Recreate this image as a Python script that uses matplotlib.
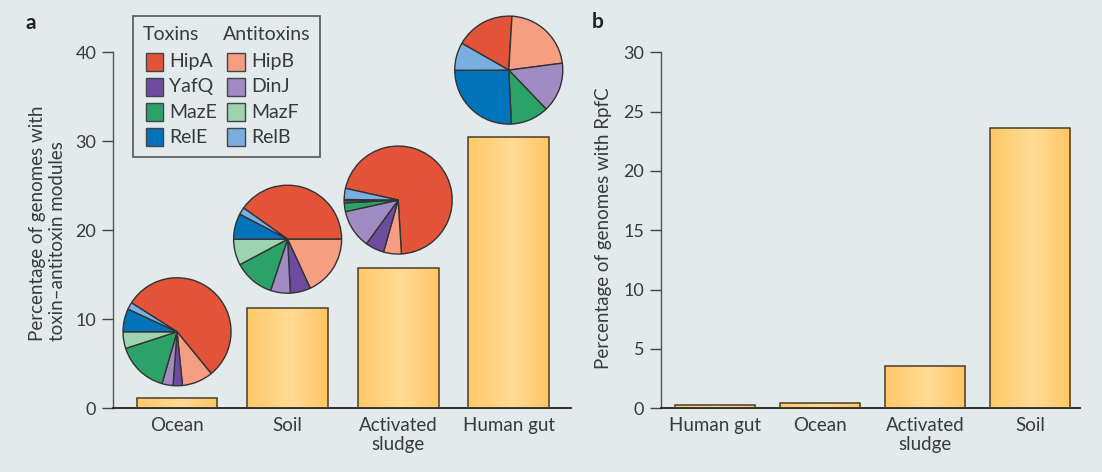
import numpy as np
import matplotlib
matplotlib.use('Agg')
import matplotlib.pyplot as plt
from matplotlib.patches import Rectangle
from matplotlib.transforms import Affine2D

plt.rcParams['font.family'] = ['Lato', 'DejaVu Sans']

# --- dati ---------------------------------------------------------------
env_a = ['Ocean', 'Soil', 'Activated\nsludge', 'Human gut']
ta_pct = [1.2, 11.3, 15.8, 30.45]

# ordine degli spicchi (in senso orario)
modules = ['HipA', 'HipB', 'YafQ', 'DinJ', 'MazE', 'MazF', 'RelE', 'RelB']
ocean_mix = [55.1, 9.3, 2.8, 3.3, 15.5, 5.0, 6.9, 2.1]
soil_mix = [40.2, 18.1, 6.1, 5.9, 12.1, 7.8, 7.7, 2.1]
sludge_mix = [70.3, 5.3, 5.6, 11.5, 2.6, 0.6, 0.4, 3.3]
gut_mix = [17.7, 22.0, 0.0, 14.9, 11.4, 0.0, 25.7, 8.3]

toxins = ['HipA', 'YafQ', 'MazE', 'RelE']
antitoxins = ['HipB', 'DinJ', 'MazF', 'RelB']

env_b = ['Human gut', 'Ocean', 'Activated\nsludge', 'Soil']
rpfc_pct = [0.25, 0.42, 3.6, 23.6]

# --- stile ----------------------------------------------------------------
BG = '#E2EAEC'
TXT = '#3a3a3a'
EDGE = '#4a3d28'
COLS = {'HipA': '#E2533A', 'HipB': '#F59E82', 'YafQ': '#6D4C9F',
        'DinJ': '#A08BC3', 'MazE': '#2BA268', 'MazF': '#9DD3AF',
        'RelE': '#0073BA', 'RelB': '#79AFE0'}

W, H = 1102, 472
fig = plt.figure(figsize=(W / 100, H / 100), dpi=100, facecolor=BG)
pxT = Affine2D().scale(1 / W, -1 / H).translate(0, 1) + fig.transFigure


def box(x0, x1, y_top, y_bot):
    return [x0 / W, 1 - y_bot / H, (x1 - x0) / W, (y_bot - y_top) / H]


axa = fig.add_axes(box(112.9, 570.7, 52.3, 408.3))
axb = fig.add_axes(box(661, 1080, 52.3, 408.3))

c0 = np.array([255, 201, 104]) / 255
c1 = np.array([255, 219, 150]) / 255
c2 = np.array([255, 198, 98]) / 255
t = np.linspace(0, 1, 256)[:, None]
grad = np.where(t < 0.55, c0 + (c1 - c0) * (t / 0.55),
                c1 + (c2 - c1) * ((t - 0.55) / 0.45))[None, :, :]


def gradient_bars(ax, vals, width):
    bars = ax.bar(range(len(vals)), vals, width, facecolor='none',
                  edgecolor=EDGE, lw=1.1, zorder=3)
    for b in bars:
        im = ax.imshow(grad, extent=[b.get_x(), b.get_x() + b.get_width(),
                                     0, b.get_height()],
                       aspect='auto', zorder=2, interpolation='bilinear')
        im.set_clip_path(b)
    return bars


def style(ax, labels, yticks, xlim):
    ax.set_facecolor(BG)
    for s in ('top', 'right'):
        ax.spines[s].set_visible(False)
    ax.spines['left'].set_color('#555555')
    ax.spines['left'].set_linewidth(1.0)
    ax.spines['bottom'].set_color('#222222')
    ax.spines['bottom'].set_linewidth(1.3)
    ax.set_xlim(*xlim)
    ax.set_ylim(yticks[0], yticks[-1])
    ax.set_yticks(yticks)
    ax.set_xticks(range(len(labels)))
    ax.set_xticklabels(labels, linespacing=1.15)
    ax.tick_params(axis='y', direction='out', length=8, width=1,
                   color='#444444', labelsize=13, labelcolor=TXT, pad=4)
    ax.tick_params(axis='x', length=0, labelsize=13.5, labelcolor=TXT,
                   pad=6)


gradient_bars(axa, ta_pct, 0.73)
style(axa, env_a, [0, 10, 20, 30, 40], (-0.58, 3.56))
gradient_bars(axb, rpfc_pct, 0.77)
style(axb, env_b, [0, 5, 10, 15, 20, 25, 30], (-0.514, 3.476))

# --- torte sopra le barre ---------------------------------------------
pie_y = [8.6, 19.0, 23.4, 38.0]
pie_start = [147.6, 144.7, 167.5, 150.3]
R = 54.0
for i, mix in enumerate([ocean_mix, soil_mix, sludge_mix, gut_mix]):
    cx, cy = axa.transData.transform((i, pie_y[i]))
    hs = R * 1.25
    pax = fig.add_axes([(cx - hs) / W, (cy - hs) / H, 2 * hs / W, 2 * hs / H])
    keep = [(m, v) for m, v in zip(modules, mix) if v > 0]
    pax.pie([v for _, v in keep], colors=[COLS[m] for m, _ in keep],
            startangle=pie_start[i], counterclock=False,
            wedgeprops=dict(edgecolor='#333333', linewidth=1.0))
    pax.set_xlim(-1.25, 1.25)
    pax.set_ylim(-1.25, 1.25)

# --- legenda --------------------------------------------------------------
fig.patches.append(Rectangle((132.9, 15.7), 187.5, 141.6, transform=pxT,
                             facecolor='none', edgecolor='#555555', lw=1.2))
fig.text(142.3, 35, 'Toxins', transform=pxT, ha='left', va='center',
         fontsize=14, color=TXT)
fig.text(223.3, 35, 'Antitoxins', transform=pxT, ha='left', va='center',
         fontsize=14, color=TXT)
for col, (sx, tx, names) in enumerate([(145.7, 169.3, toxins),
                                       (227.3, 251.0, antitoxins)]):
    for j, name in enumerate(names):
        yc = 61.7 + 25.2 * j
        fig.patches.append(Rectangle((sx, yc - 9), 17.6, 18, transform=pxT,
                                     facecolor=COLS[name],
                                     edgecolor='#444444', lw=1.0))
        fig.text(tx, yc, name, transform=pxT, ha='left', va='center',
                 fontsize=14, color=TXT)

# --- etichette ---------------------------------------------------------
fig.text(31, 22.7, 'a', transform=pxT, ha='center', va='center',
         fontsize=15, fontweight='bold', color='#222222')
fig.text(598, 22, 'b', transform=pxT, ha='center', va='center',
         fontsize=15, fontweight='bold', color='#222222')
fig.text(47.5, 223.5, 'Percentage of genomes with\ntoxin\u2013antitoxin modules',
         transform=pxT, rotation=90, ha='center', va='center',
         multialignment='left', fontsize=13.5, color=TXT, linespacing=1.2)
fig.text(604, 228, 'Percentage of genomes with RpfC', transform=pxT,
         rotation=90, ha='center', va='center', fontsize=13.5, color=TXT)

fig.savefig('out.png', dpi=100, facecolor=BG)
